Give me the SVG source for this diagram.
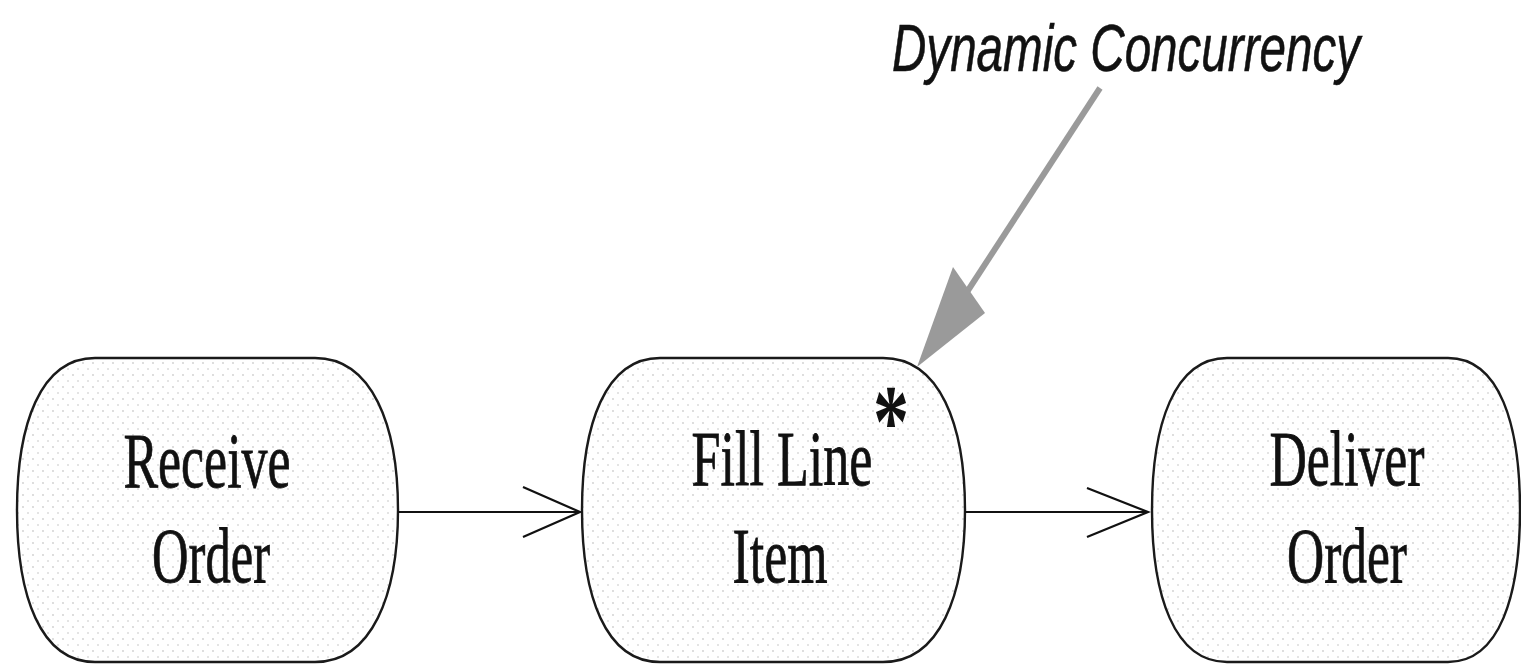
<svg xmlns="http://www.w3.org/2000/svg" width="1521" height="664" viewBox="0 0 1521 664">
<style>
.node{fill:url(#dots);stroke:#1a1a1a;stroke-width:2.4}
.lbl{font-family:"Liberation Serif","Times New Roman",serif;font-size:78px;fill:#111;stroke:#111;stroke-width:0.8;text-anchor:middle}
.conn{stroke:#111;stroke-width:2.2;fill:none}
.note{font-family:"Liberation Sans",Arial,sans-serif;font-style:italic;font-size:66px;fill:#111;stroke:#111;stroke-width:0.6}
</style>
<defs>
<pattern id="dots" width="10" height="12" patternUnits="userSpaceOnUse">
<rect width="10" height="12" fill="#ffffff"/>
<circle cx="3" cy="3" r="0.9" fill="#cfcfcf"/>
<circle cx="8" cy="9" r="0.9" fill="#d8d8d8"/>
</pattern>
</defs>
<rect width="1521" height="664" fill="#ffffff"/>
<g id="node-receive-order">
<path class="node" d="M95,358 H315 C372,358 398,425 398,510 C398,595 372,662 315,662 H95 C40,662 17,595 17,510 C17,425 40,358 95,358 Z"/>
<text class="lbl" x="207" y="487" textLength="167" lengthAdjust="spacingAndGlyphs">Receive</text>
<text class="lbl" x="211" y="582" textLength="118" lengthAdjust="spacingAndGlyphs">Order</text>
</g>
<g id="node-fill-line-item">
<path class="node" d="M660,358 H883 C940,358 965,425 965,510 C965,595 940,662 883,662 H660 C605,662 582,595 582,510 C582,425 605,358 660,358 Z"/>
<text class="lbl" x="782" y="485" textLength="181" lengthAdjust="spacingAndGlyphs">Fill Line</text>
<text class="lbl" x="780" y="582" textLength="95" lengthAdjust="spacingAndGlyphs">Item</text>
<text x="891" y="456" font-family="Liberation Serif,serif" font-weight="bold" font-size="104" fill="#111" text-anchor="middle" textLength="36" lengthAdjust="spacingAndGlyphs">*</text>
</g>
<g id="node-deliver-order">
<path class="node" d="M1227,358 H1448 C1500,358 1520,425 1520,510 C1520,595 1500,662 1448,662 H1227 C1174,662 1152,595 1152,510 C1152,425 1174,358 1227,358 Z"/>
<text class="lbl" x="1347" y="485" textLength="155" lengthAdjust="spacingAndGlyphs">Deliver</text>
<text class="lbl" x="1347" y="582" textLength="120" lengthAdjust="spacingAndGlyphs">Order</text>
</g>
<g id="note-dynamic-concurrency">
<text class="note" x="892" y="71" textLength="468" lengthAdjust="spacingAndGlyphs">Dynamic Concurrency</text>
</g>
<g id="connectors">
<line class="conn" x1="398" y1="512" x2="580" y2="512"/>
<polyline class="conn" points="523,487 580,512 523,537"/>
<line class="conn" x1="965" y1="512" x2="1148" y2="512"/>
<polyline class="conn" points="1087,488 1148,512 1087,537"/>
<line x1="1100" y1="88" x2="965" y2="295" stroke="#9a9a9a" stroke-width="6"/>
<polygon points="917,367 953,267 985,313" fill="#9a9a9a"/>
</g>
</svg>
